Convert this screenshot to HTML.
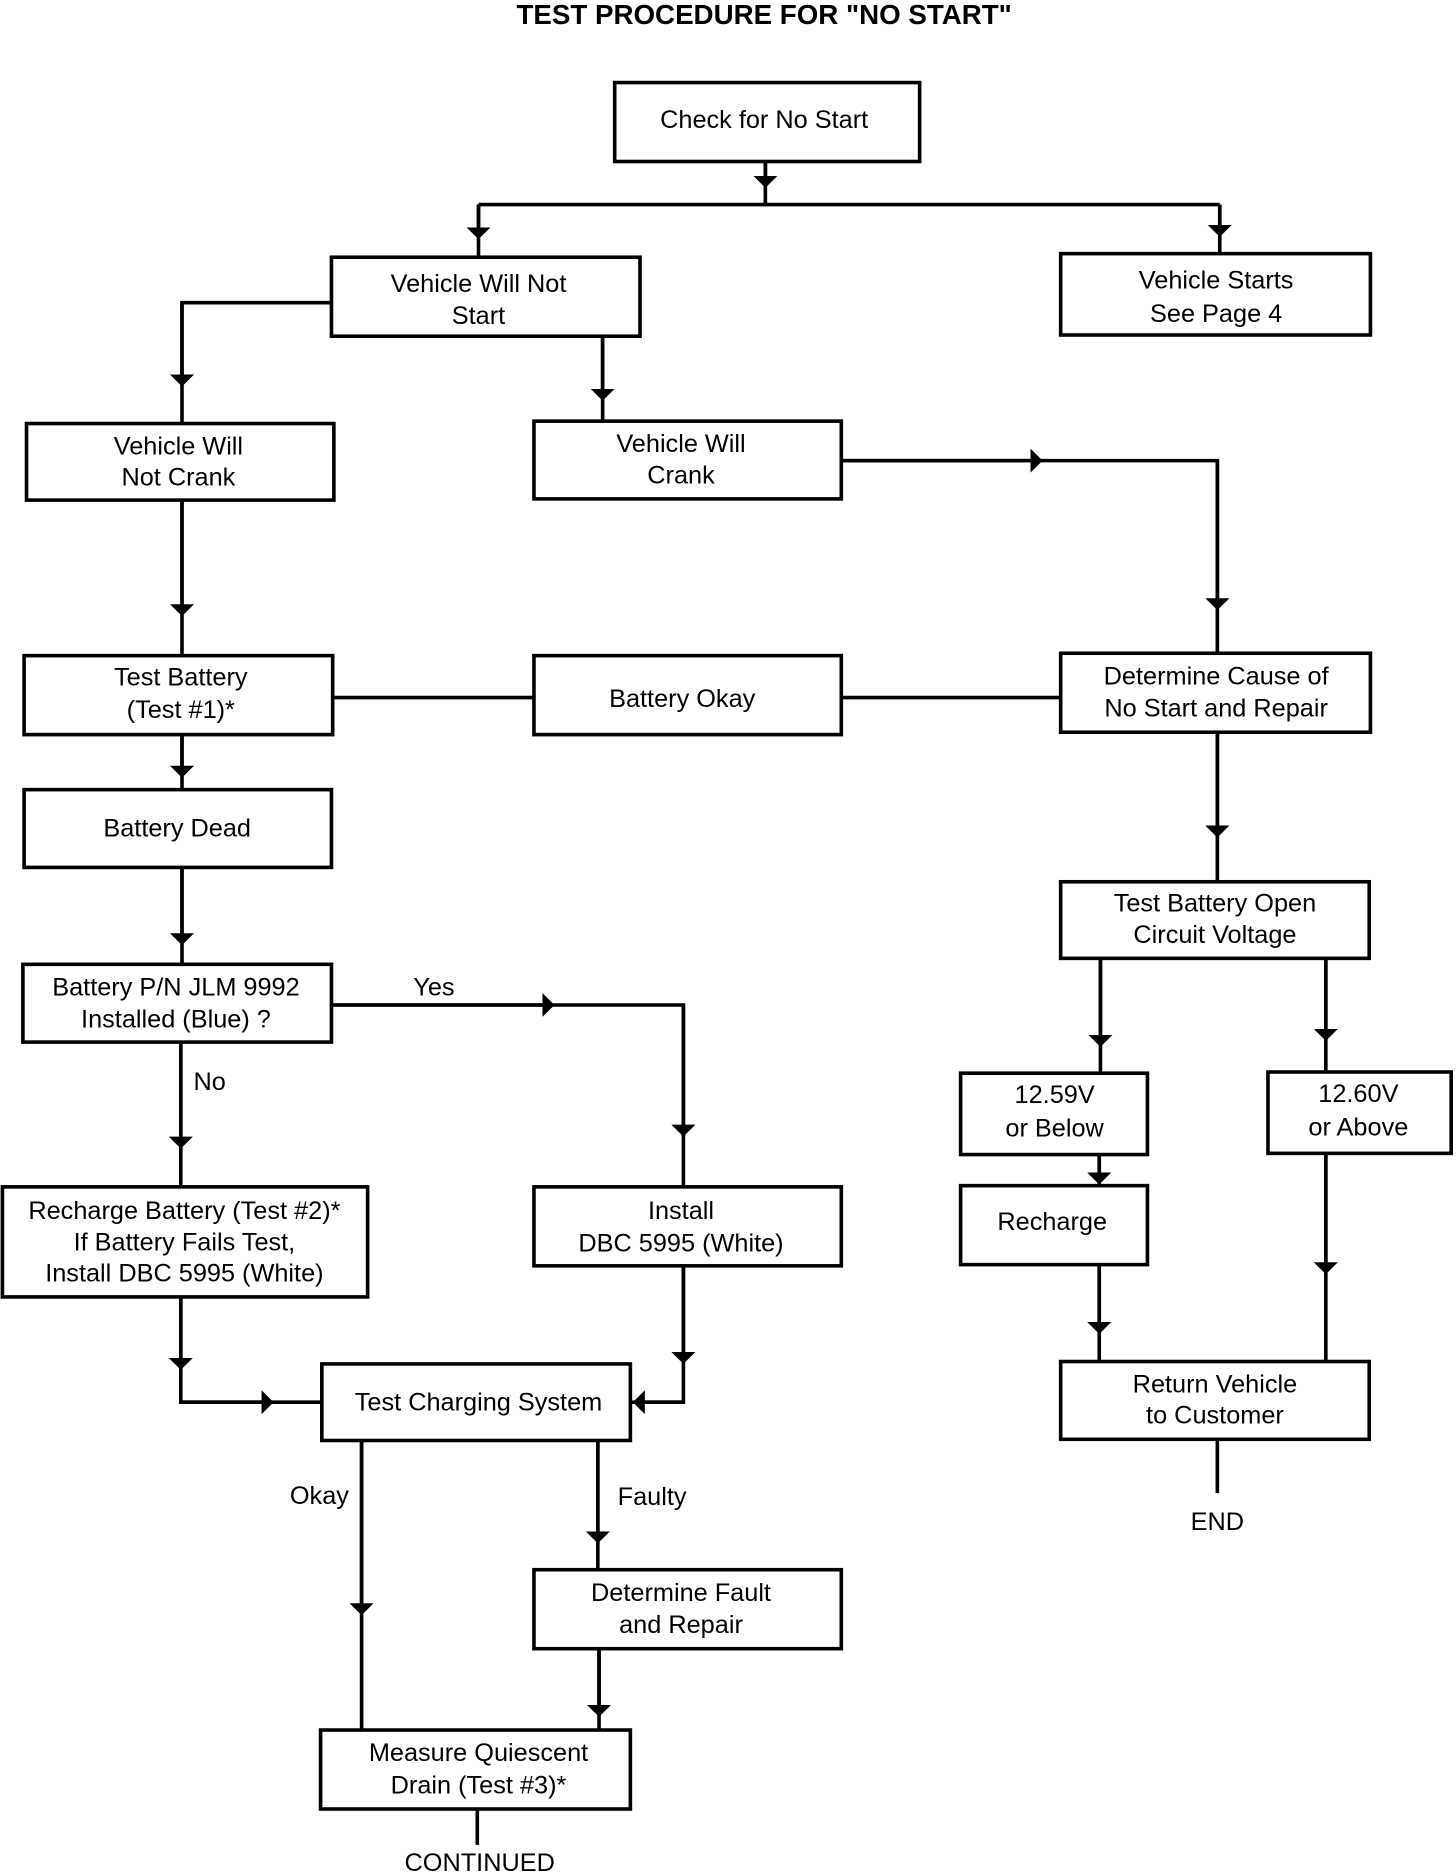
<!DOCTYPE html>
<html><head><meta charset="utf-8"><style>
html,body{margin:0;padding:0;background:#fff;}
svg{display:block;}
text{font-family:"Liberation Sans",Arial,sans-serif;font-size:21px;text-anchor:middle;fill:#000;}
</style></head><body>
<svg width="1456" height="1876" viewBox="0 0 1208 1568" preserveAspectRatio="none" xmlns="http://www.w3.org/2000/svg">
<defs>
<marker id="d" viewBox="0 0 10 20" refX="5" refY="10" markerWidth="10" markerHeight="20" markerUnits="userSpaceOnUse" orient="auto"><path d="M0,0 L10,10 L0,20 z" fill="#000"/></marker>
</defs>
<text x="634" y="20" style="font-weight:bold;font-size:23px">TEST PROCEDURE FOR "NO START"</text>
<g fill="#fff" stroke="#000" stroke-width="3">
<rect x="510" y="69" width="253" height="66"/>
<rect x="275" y="215" width="256" height="66"/>
<rect x="880" y="212" width="257" height="68"/>
<rect x="22" y="354" width="255" height="64"/>
<rect x="443" y="352" width="255" height="65"/>
<rect x="20" y="548" width="256" height="66"/>
<rect x="443" y="548" width="255" height="66"/>
<rect x="880" y="546" width="257" height="66"/>
<rect x="20" y="660" width="255" height="65"/>
<rect x="880" y="737" width="256" height="64"/>
<rect x="19" y="806" width="256" height="65"/>
<rect x="797" y="897" width="155" height="68"/>
<rect x="1052" y="896" width="152" height="68"/>
<rect x="797" y="991" width="155" height="66"/>
<rect x="2" y="992" width="303" height="92"/>
<rect x="443" y="992" width="255" height="66"/>
<rect x="880" y="1138" width="256" height="65"/>
<rect x="267" y="1140" width="256" height="64"/>
<rect x="443" y="1312" width="255" height="66"/>
<rect x="266" y="1446" width="257" height="66"/>
</g>
<g fill="none" stroke="#000" stroke-width="3">
<path d="M635,135 V171"/><path d="M635,135 V152" marker-end="url(#d)"/>
<path d="M397,171 H1012"/>
<path d="M397,171 V215"/><path d="M397,171 V195" marker-end="url(#d)"/>
<path d="M1012,171 V212"/><path d="M1012,171 V193" marker-end="url(#d)"/>
<path d="M275,253 H151 V354"/><path d="M151,253 V318" marker-end="url(#d)"/>
<path d="M500,281 V352"/><path d="M500,281 V330" marker-end="url(#d)"/>
<path d="M698,385 H1010 V546"/><path d="M698,385 H860" marker-end="url(#d)"/><path d="M1010,385 V505" marker-end="url(#d)"/>
<path d="M151,418 V548"/><path d="M151,418 V510" marker-end="url(#d)"/>
<path d="M276,583 H443"/><path d="M698,583 H880"/>
<path d="M151,614 V660"/><path d="M151,614 V645" marker-end="url(#d)"/>
<path d="M151,725 V806"/><path d="M151,725 V785" marker-end="url(#d)"/>
<path d="M1010,612 V737"/><path d="M1010,612 V695" marker-end="url(#d)"/>
<path d="M275,840 H567 V992"/><path d="M275,840 H455" marker-end="url(#d)"/><path d="M567,840 V945" marker-end="url(#d)"/>
<path d="M150,871 V992"/><path d="M150,871 V955" marker-end="url(#d)"/>
<path d="M913,801 V897"/><path d="M913,801 V870" marker-end="url(#d)"/>
<path d="M1100,801 V896"/><path d="M1100,801 V865" marker-end="url(#d)"/>
<path d="M912,965 V991"/><path d="M912,965 V985" marker-end="url(#d)"/>
<path d="M912,1057 V1138"/><path d="M912,1057 V1110" marker-end="url(#d)"/>
<path d="M1100,964 V1138"/><path d="M1100,964 V1060" marker-end="url(#d)"/>
<path d="M1010,1203 V1248"/>
<path d="M150,1084 V1172 H267"/><path d="M150,1084 V1140" marker-end="url(#d)"/><path d="M150,1172 H222" marker-end="url(#d)"/>
<path d="M567,1058 V1172 H523"/><path d="M567,1058 V1135" marker-end="url(#d)"/><path d="M567,1172 H530" marker-end="url(#d)"/>
<path d="M300,1204 V1446"/><path d="M300,1204 V1345" marker-end="url(#d)"/>
<path d="M496,1204 V1312"/><path d="M496,1204 V1285" marker-end="url(#d)"/>
<path d="M497,1378 V1446"/><path d="M497,1378 V1430" marker-end="url(#d)"/>
<path d="M396,1512 V1542"/>
</g>
<text x="634" y="107">Check for No Start</text>
<text x="397" y="244">Vehicle Will Not</text><text x="397" y="271">Start</text>
<text x="1009" y="241">Vehicle Starts</text><text x="1009" y="269">See Page 4</text>
<text x="148" y="380">Vehicle Will</text><text x="148" y="406">Not Crank</text>
<text x="565" y="378">Vehicle Will</text><text x="565" y="404">Crank</text>
<text x="150" y="573">Test Battery</text><text x="150" y="600">(Test #1)*</text>
<text x="566" y="591">Battery Okay</text>
<text x="1009" y="572">Determine Cause of</text><text x="1009" y="599">No Start and Repair</text>
<text x="147" y="699">Battery Dead</text>
<text x="1008" y="762">Test Battery Open</text><text x="1008" y="788">Circuit Voltage</text>
<text x="146" y="832">Battery P/N JLM 9992</text><text x="146" y="859">Installed (Blue) ?</text>
<text x="360" y="832">Yes</text>
<text x="174" y="911">No</text>
<text x="875" y="922">12.59V</text><text x="875" y="950">or Below</text>
<text x="1127" y="921">12.60V</text><text x="1127" y="949">or Above</text>
<text x="873" y="1028">Recharge</text>
<text x="153" y="1019">Recharge Battery (Test #2)*</text><text x="153" y="1045">If Battery Fails Test,</text><text x="153" y="1071">Install DBC 5995 (White)</text>
<text x="565" y="1019">Install</text><text x="565" y="1046">DBC 5995 (White)</text>
<text x="1008" y="1164">Return Vehicle</text><text x="1008" y="1190">to Customer</text>
<text x="397" y="1179">Test Charging System</text>
<text x="265" y="1257">Okay</text>
<text x="541" y="1258">Faulty</text>
<text x="565" y="1338">Determine Fault</text><text x="565" y="1365">and Repair</text>
<text x="397" y="1472">Measure Quiescent</text><text x="397" y="1499">Drain (Test #3)*</text>
<text x="1010" y="1279">END</text>
<text x="398" y="1564">CONTINUED</text>
</svg>
</body></html>
